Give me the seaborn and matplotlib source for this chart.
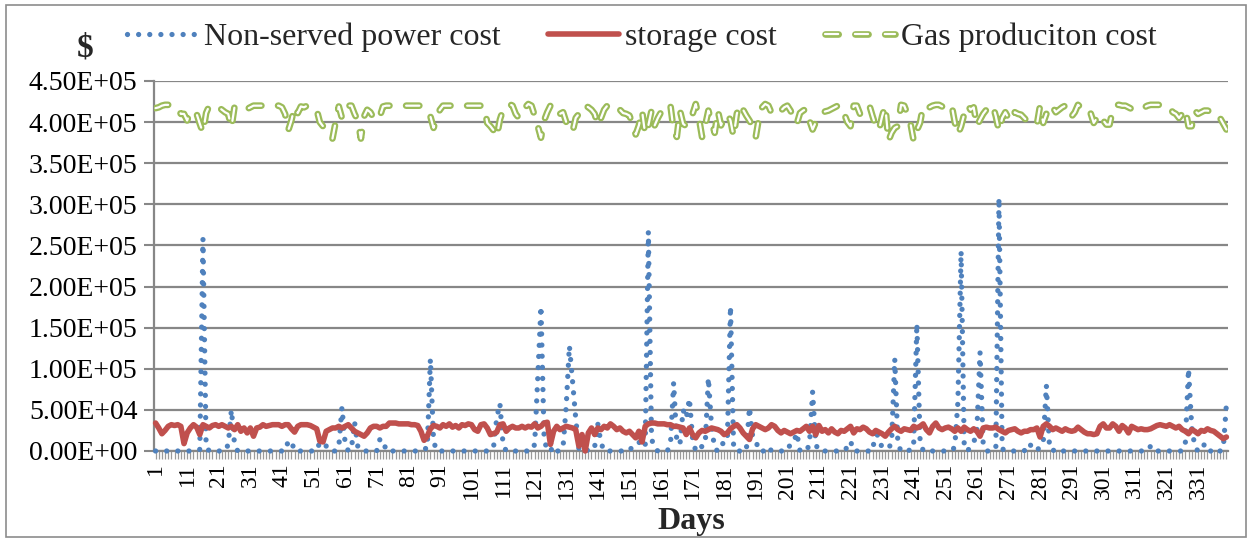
import numpy as np
import pandas as pd
import matplotlib
matplotlib.use("Agg")
import matplotlib.pyplot as plt
import matplotlib.patheffects as pe
from matplotlib.patches import Rectangle
from matplotlib.ticker import FuncFormatter, MultipleLocator
import seaborn as sns

# ---------------- data (values in thousands of $) ----------------
days = list(range(1, 341))

nonserved_k = [
    0, 0, 0, 0, 0, 0, 0, 0, 0, 0,
    0, 0, 0, 0, 2, 258, 5, 0, 0, 0,
    0, 0, 0, 8, 50, 8, 0, 0, 0, 0,
    0, 0, 0, 0, 0, 0, 0, 0, 0, 0,
    0, 0, 12, 12, 0, 0, 0, 0, 0, 0,
    0, 0, 11, 9, 6, 0, 0, 0, 5, 53,
    10, 0, 3, 35, 6, 0, 0, 0, 0, 0,
    0, 14, 14, 0, 0, 0, 0, 0, 0, 0,
    0, 0, 0, 0, 0, 3, 3, 112, 12, 0,
    0, 0, 0, 0, 0, 0, 0, 0, 0, 0,
    0, 0, 0, 0, 0, 0, 0, 5, 40, 58,
    8, 0, 0, 0, 0, 0, 0, 0, 0, 0,
    8, 90, 176, 15, 0, 0, 6, 0, 0, 5,
    55, 128, 85, 40, 3, 0, 3, 0, 0, 5,
    33, 10, 0, 0, 0, 0, 0, 0, 0, 0,
    0, 6, 8, 11, 5, 5, 267, 15, 3, 0,
    0, 0, 0, 8, 83, 12, 8, 50, 40, 64,
    15, 0, 0, 6, 8, 89, 30, 3, 0, 9,
    9, 12, 176, 3, 0, 0, 0, 0, 53, 18,
    13, 0, 0, 0, 5, 0, 0, 0, 0, 0,
    0, 9, 11, 22, 0, 0, 0, 8, 72, 8,
    0, 0, 0, 0, 0, 0, 0, 0, 0, 5,
    12, 0, 0, 0, 0, 0, 0, 0, 27, 12,
    5, 4, 3, 10, 112, 8, 0, 2, 2, 0,
    10, 155, 15, 0, 0, 0, 0, 0, 0, 0,
    0, 0, 0, 5, 60, 243, 5, 0, 5, 10,
    25, 120, 8, 0, 0, 0, 3, 308, 3, 0,
    0, 0, 0, 0, 0, 0, 9, 7, 4, 0,
    6, 10, 80, 5, 0, 3, 2, 0, 0, 0,
    0, 0, 0, 0, 0, 0, 0, 0, 0, 0,
    0, 0, 0, 0, 0, 0, 0, 0, 0, 0,
    0, 0, 0, 0, 0, 6, 0, 0, 0, 0,
    0, 0, 0, 0, 0, 0, 10, 100, 30, 5,
    0, 0, 8, 0, 0, 0, 3, 0, 3, 57,
]

storage_k = [
    34, 28, 21, 25, 30, 32, 31, 32, 30, 9,
    22, 28, 32, 29, 20, 32, 30, 28, 31, 32,
    30, 32, 30, 28, 30, 26, 32, 24, 28, 22,
    28, 18, 28, 29, 32, 30, 31, 32, 32, 32,
    30, 32, 32, 27, 23, 30, 32, 32, 32, 31,
    29, 27, 12, 11, 24, 26, 28, 28, 30, 28,
    30, 32, 28, 24, 22, 20, 18, 22, 28, 30,
    30, 28, 30, 30, 34, 34, 34, 33, 33, 33,
    33, 32, 32, 31, 24, 13, 18, 27, 31, 30,
    28, 32, 30, 33, 29, 31, 28, 32, 31, 33,
    32, 26, 24, 32, 33, 28, 20, 21, 23, 32,
    33, 24, 28, 30, 28, 28, 30, 28, 30, 29,
    33, 28, 30, 34, 35, 8, 24, 30, 26, 28,
    30, 29, 28, 26, 6, 20, 0, 22, 28, 20,
    28, 26, 30, 28, 33, 30, 26, 28, 24, 22,
    24, 20, 16, 24, 11, 30, 33, 34, 34, 33,
    33, 33, 32, 32, 30, 30, 29, 28, 20, 28,
    20, 16, 22, 25, 24, 26, 28, 27, 26, 24,
    20, 22, 27, 30, 32, 28, 22, 18, 14, 27,
    32, 30, 28, 26, 28, 32, 30, 25, 22, 25,
    23, 21, 23, 25, 24, 27, 30, 24, 30, 20,
    31, 24, 26, 22, 27, 23, 21, 25, 24, 27,
    30, 22, 27, 26, 29, 27, 23, 21, 25, 23,
    21, 18, 23, 27, 30, 26, 24, 27, 26, 25,
    30, 28, 30, 33, 26, 22, 30, 34, 28, 26,
    28, 29, 27, 24, 28, 24, 29, 26, 24, 27,
    24, 18, 28, 29, 28, 28, 29, 26, 24, 22,
    25, 26, 27, 24, 22, 24, 24, 26, 26, 28,
    17, 30, 33, 30, 26, 28, 26, 24, 27, 25,
    24, 25, 29, 26, 23, 21, 21, 20, 21, 30,
    33, 28, 28, 33, 30, 24, 31, 28, 22, 30,
    28, 26, 27, 26, 26, 27, 29, 31, 32, 31,
    30, 32, 30, 28, 30, 26, 24, 21, 26, 24,
    21, 25, 24, 27, 25, 24, 21, 18, 15, 17,
]

gas_k = [
    417, 418, 420, 421, 421, 422, 420, 416, 410, 410,
    402, 414, 412, 410, 398, 387, 411, 420, 420, 420,
    418, 415, 412, 410, 393, 419, 420, 418, 416, 416,
    418, 420, 420, 420, 420, 420, 420, 420, 420, 420,
    418, 410, 390, 402, 419, 411, 419, 418, 420, 420,
    418, 415, 400, 395, 392, 390, 380, 400, 419, 405,
    412, 420, 420, 410, 402, 380, 407, 415, 412, 405,
    402, 407, 419, 420, 420, 420, 420, 420, 420, 420,
    420, 420, 420, 420, 420, 415, 410, 407, 393, 405,
    415, 420, 420, 420, 420, 420, 420, 420, 420, 420,
    420, 420, 420, 420, 419, 399, 395, 390, 382, 403,
    415, 420, 422, 420, 410, 405, 412, 418, 422, 420,
    408, 395, 381, 402, 412, 420, 410, 412, 410, 412,
    400, 392, 388, 405, 410, 420, 420, 418, 415, 410,
    396, 405, 415, 420, 422, 421, 420, 415, 411, 410,
    408, 398, 385, 396, 414, 385, 396, 414, 396, 405,
    412, 418, 422, 420, 390, 382, 414, 398, 395, 402,
    410, 422, 405, 382, 396, 414, 400, 387, 414, 396,
    405, 410, 402, 382, 410, 422, 415, 408, 402, 395,
    382, 405, 418, 422, 420, 411, 408, 410, 414, 418,
    420, 414, 405, 398, 411, 414, 416, 402, 391, 400,
    408, 411, 413, 414, 416, 418, 420, 420, 410, 400,
    395, 420, 420, 410, 415, 421, 420, 407, 395, 390,
    407, 420, 377, 387, 393, 395, 421, 420, 410, 398,
    377, 390, 399, 420, 420, 418, 420, 421, 421, 419,
    417, 419, 421, 400, 385, 395, 410, 421, 415, 418,
    395, 403, 410, 415, 418, 421, 407, 389, 405, 412,
    405, 401, 412, 410, 409, 405, 401, 399, 397, 397,
    420, 399, 410, 421, 418, 412, 415, 418, 420, 420,
    407, 412, 421, 418, 414, 416, 411, 399, 405, 410,
    402, 397, 397, 415, 421, 421, 420, 420, 418, 416,
    414, 415, 416, 418, 420, 421, 421, 421, 421, 421,
    421, 418, 412, 410, 405, 410, 416, 395, 395, 414,
    410, 412, 414, 414, 413, 414, 410, 405, 398, 391,
]

series_labels = ["Non-served power cost", "storage cost", "Gas produciton cost"]
x_label_days = list(range(1, 341, 10))
y_max = 450000
y_step = 50000

# ---------------- styling ----------------
sns.set_theme(style="white")
plt.rcParams["font.family"] = ["Liberation Serif", "DejaVu Serif"]
plt.rcParams["lines.scale_dashes"] = False

BLUE = "#4F81BD"
RED = "#C0504D"
GREEN = "#9BBB59"
GRID = "#878787"

W, H = 1253, 540
fig = plt.figure(figsize=(W / 100, H / 100), dpi=100)
fig.patch.set_facecolor("white")
ax = fig.add_axes([154 / W, 1 - 451 / H, (1228 - 154) / W, 370 / H])

df = pd.DataFrame({
    "Day": days,
    "nonserved": np.array(nonserved_k) * 1000.0,
    "storage": np.array(storage_k) * 1000.0,
    "gas": np.array(gas_k) * 1000.0,
})

sns.lineplot(data=df, x="Day", y="nonserved", ax=ax, color=BLUE, linewidth=3.8)
ln_blue = ax.lines[-1]
sns.lineplot(data=df, x="Day", y="storage", ax=ax, color=RED, linewidth=4.0)
ln_red = ax.lines[-1]
sns.lineplot(data=df, x="Day", y="gas", ax=ax, color="white", linewidth=1.6)
ln_gas = ax.lines[-1]
if ax.get_legend() is not None:
    ax.get_legend().remove()

ln_blue.set_linestyle((0, (0.01, 8.0)))
ln_blue.set_dash_capstyle("round")
ln_blue.set_clip_on(False)
ln_blue.set_zorder(3)

ln_red.set_solid_capstyle("round")
ln_red.set_solid_joinstyle("round")
ln_red.set_clip_on(False)
ln_red.set_zorder(3.1)

ln_gas.set_linestyle((0, (9.5, 12.0)))
ln_gas.set_dash_capstyle("round")
ln_gas.set_dash_joinstyle("round")
ln_gas.set_path_effects([pe.Stroke(linewidth=4.8, foreground=GREEN), pe.Normal()])
ln_gas.set_zorder(3.2)

# axes
ax.set_xlim(0.5, len(days) + 0.5)
ax.set_ylim(0, y_max)
ax.yaxis.set_major_locator(MultipleLocator(y_step))
ax.yaxis.set_major_formatter(FuncFormatter(lambda v, p: f"{v:.2E}"))
ax.set_xticks(days)
ax.set_xticklabels([str(d) if d in x_label_days else "" for d in days], rotation=90)

ax.yaxis.grid(True, color=GRID, linewidth=1.6)
ax.xaxis.grid(False)
ax.set_axisbelow(True)
for side in ("top", "right"):
    ax.spines[side].set_visible(False)
for side in ("left", "bottom"):
    ax.spines[side].set_color(GRID)
    ax.spines[side].set_linewidth(1.6)

ax.tick_params(axis="y", left=True, length=7, width=1.5, color=GRID,
               labelsize=20, pad=5, labelcolor="black")
ax.tick_params(axis="x", bottom=True, length=6, width=0.9, color="#9a9a9a",
               labelsize=17, pad=3, labelcolor="black")

ax.set_xlabel("Days", fontsize=23, fontweight="bold", va="center")
ax.xaxis.set_label_coords(0.5, -0.19)
ax.set_ylabel("$", rotation=0, fontsize=24, fontweight="bold", va="center", ha="center")
ax.yaxis.set_label_coords(-0.064, 1.09)

fig.legend(handles=[ln_blue, ln_red, ln_gas], labels=series_labels,
           loc="center", bbox_to_anchor=(642 / W, 1 - 37 / H), ncol=3,
           frameon=False, fontsize=23, handlelength=2.2, handletextpad=0.2,
           columnspacing=1.5)

fig.add_artist(Rectangle((6 / W, 3 / H), (1246 - 6) / W, (535 - 3) / H,
                         transform=fig.transFigure, fill=False,
                         edgecolor="#8c8c8c", linewidth=1.2))

fig.savefig("out.png", dpi=100)
